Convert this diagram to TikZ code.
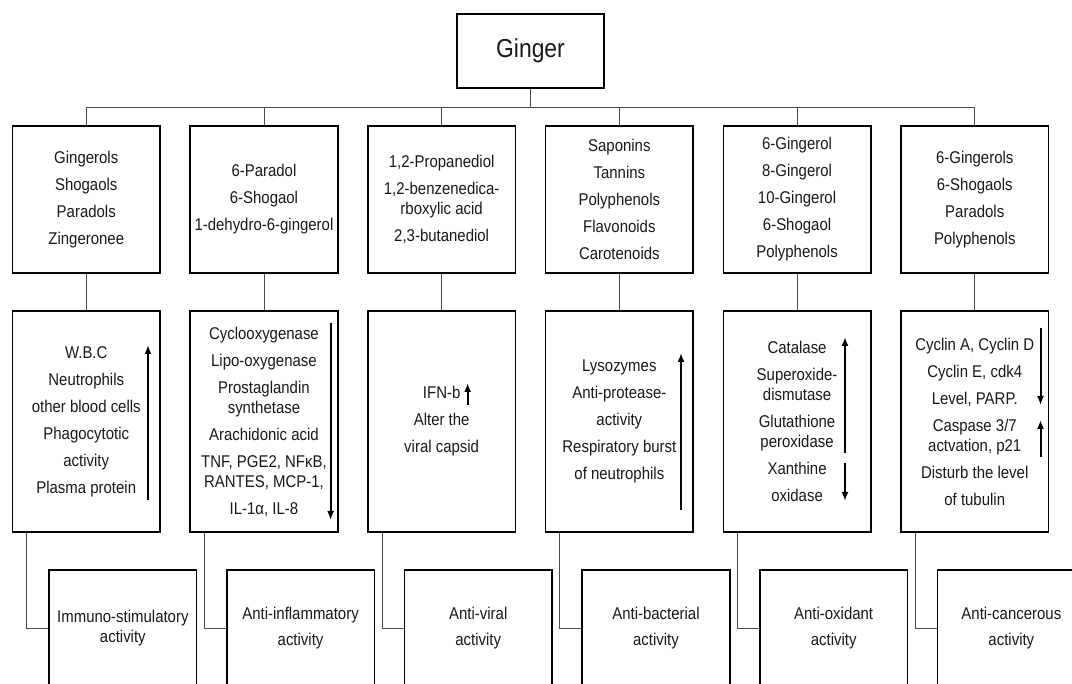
\documentclass[tikz,border=0pt]{standalone}
\usepackage{fontspec}
\setmainfont{Liberation Sans}[FakeStretch=0.88]
\usepackage{tikz}
\usetikzlibrary{calc, arrows.meta}

\tikzset{
	box/.style={draw=black, line width=1.6pt, minimum width=147.5pt, align=center, inner sep=1pt, text=black!90, font=\fontsize{17}{20}\selectfont},
	topbox/.style={box, minimum height=147pt},
	midbox/.style={box, minimum height=221pt},
	botbox/.style={box, minimum height=116pt},
	link/.style={draw=black!70, line width=0.9pt},
	trend/.style={line width=2pt, -{Latex[length=9pt, width=7pt]}},
}

\begin{document}
\begin{tikzpicture}[x=1pt, y=-1pt]
	\useasboundingbox (0,0) rectangle (1072,684);
	\clip (0,0) rectangle (1072,684);
	\fill[white] (0,0) rectangle (1072,684);

	%the root
	\node[box, minimum width=147pt, minimum height=74pt, font=\fontsize{26}{30}\selectfont] (ginger) at (530.5,51) {Ginger};

	%compounds
	\node[topbox] (top0) at (86.25,199.5) {Gingerols\\[7pt]Shogaols\\[7pt]Paradols\\[7pt]Zingeronee};
	\node[topbox] (top1) at (263.95,199.5) {6-Paradol\\[7pt]6-Shogaol\\[7pt]1-dehydro-6-gingerol};
	\node[topbox] (top2) at (441.65,199.5) {1,2-Propanediol\\[7pt]1,2-benzenedica-\\rboxylic acid\\[7pt]2,3-butanediol};
	\node[topbox] (top3) at (619.35,199.5) {Saponins\\[7pt]Tannins\\[7pt]Polyphenols\\[7pt]Flavonoids\\[7pt]Carotenoids};
	\node[topbox] (top4) at (797.05,199.5) {6-Gingerol\\[7pt]8-Gingerol\\[7pt]10-Gingerol\\[7pt]6-Shogaol\\[7pt]Polyphenols};
	\node[topbox] (top5) at (974.75,199.5) {6-Gingerols\\[7pt]6-Shogaols\\[7pt]Paradols\\[7pt]Polyphenols};

	%effects
	\node[midbox] (mid0) at (86.25,421.5) {W.B.C\\[7pt]Neutrophils\\[7pt]other blood cells\\[7pt]Phagocytotic\\[7pt]activity\\[7pt]Plasma protein};
	\node[midbox] (mid1) at (263.95,421.5) {Cyclooxygenase\\[7pt]Lipo-oxygenase\\[7pt]Prostaglandin\\synthetase\\[7pt]Arachidonic acid\\[7pt]TNF, PGE2, NFκB,\\RANTES, MCP-1,\\[7pt]IL-1α, IL-8};
	\node[midbox] (mid2) at (441.65,421.5) {IFN-b\\[7pt]Alter the\\[7pt]viral capsid};
	\node[midbox] (mid3) at (619.35,421.5) {Lysozymes\\[7pt]Anti-protease-\\[7pt]activity\\[7pt]Respiratory burst\\[7pt]of neutrophils};
	\node[midbox] (mid4) at (797.05,421.5) {Catalase\\[7pt]Superoxide-\\dismutase\\[7pt]Glutathione\\peroxidase\\[7pt]Xanthine\\[7pt]oxidase};
	\node[midbox] (mid5) at (974.75,421.5) {Cyclin A, Cyclin D\\[7pt]Cyclin E, cdk4\\[7pt]Level, PARP.\\[7pt]Caspase 3/7\\actvation, p21\\[7pt]Disturb the level\\[7pt]of tubulin};

	%activities
	\node[botbox] (bot0) at (122.85,628) {Immuno-stimulatory\\activity};
	\node[botbox] (bot1) at (300.55,628) {Anti-inflammatory\\[6pt]activity};
	\node[botbox] (bot2) at (478.25,628) {Anti-viral\\[6pt]activity};
	\node[botbox] (bot3) at (655.95,628) {Anti-bacterial\\[6pt]activity};
	\node[botbox] (bot4) at (833.65,628) {Anti-oxidant\\[6pt]activity};
	\node[botbox] (bot5) at (1011.35,628) {Anti-cancerous\\[6pt]activity};

	%connectors
	\foreach \i in {0,...,5}
		{
		\draw[link] (ginger.south) -- ++(0,19) -| (top\i.north);
		\draw[link] (top\i) -- (mid\i);
		\draw[link] ([xshift=15pt]mid\i.south west) |- (bot\i.west);
		}

	%up and down arrows
	\draw[trend] (148,500) -- (148,345);
	\draw[trend] (330.6,323) -- (330.6,520);
	\draw[trend] (467.6,405) -- (467.6,383);
	\draw[trend] (681,510) -- (681,353);
	\draw[trend] (845,453) -- (845,337);
	\draw[trend] (845,463) -- (845,501);
	\draw[trend] (1040.5,328) -- (1040.5,405);
	\draw[trend] (1040.5,457) -- (1040.5,420);
\end{tikzpicture}
\end{document}
